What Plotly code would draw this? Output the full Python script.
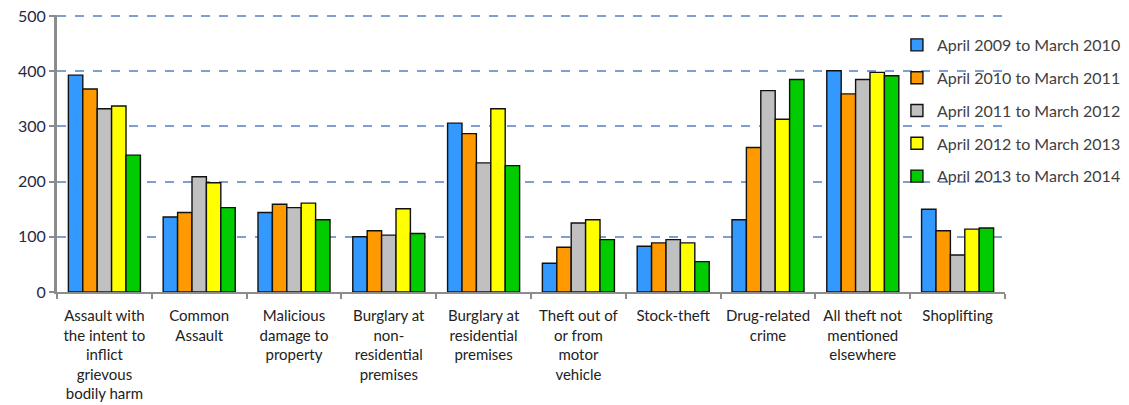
import plotly.graph_objects as go

categories = [
    "Assault with<br>the intent to<br>inflict<br>grievous<br>bodily harm",
    "Common<br>Assault",
    "Malicious<br>damage to<br>property",
    "Burglary at<br>non-<br>residential<br>premises",
    "Burglary at<br>residential<br>premises",
    "Theft out of<br>or from<br>motor<br>vehicle",
    "Stock-theft",
    "Drug-related<br>crime",
    "All theft not<br>mentioned<br>elsewhere",
    "Shoplifting",
]

periods = [
    "April 2009 to March 2010",
    "April 2010 to March 2011",
    "April 2011 to March 2012",
    "April 2012 to March 2013",
    "April 2013 to March 2014",
]

y2009_10 = [393, 136, 144, 100, 306, 52, 83, 131, 401, 150]
y2010_11 = [368, 144, 159, 111, 287, 81, 89, 262, 359, 111]
y2011_12 = [332, 209, 153, 103, 234, 125, 95, 365, 385, 67]
y2012_13 = [337, 198, 161, 151, 332, 131, 89, 313, 398, 114]
y2013_14 = [248, 153, 131, 106, 229, 95, 55, 385, 392, 116]

series = [y2009_10, y2010_11, y2011_12, y2012_13, y2013_14]
colors = ["#3399FF", "#FF9900", "#C0C0C0", "#FFFF00", "#00CC00"]

font_family = "Lato, 'Open Sans', sans-serif"
text_color = "#404040"

fig = go.Figure()
for name, vals, col in zip(periods, series, colors):
    fig.add_trace(go.Bar(
        x=categories, y=vals, name=name, legendgroup=name,
        marker=dict(color=col, line=dict(color="#111111", width=1.4)),
    ))

fig.update_layout(
    width=1129, height=405,
    margin=dict(l=57, r=124, t=15, b=113, autoexpand=False),
    paper_bgcolor="white", plot_bgcolor="white",
    barmode="group", bargap=0.24, bargroupgap=0,
    font=dict(family=font_family, size=15, color=text_color),
    legend=dict(
        x=0.886, xanchor="left",
        y=0.953, yanchor="top",
        bgcolor="rgba(0,0,0,0)", traceorder="grouped", tracegroupgap=9,
        font=dict(size=16, color=text_color),
        itemwidth=30,
    ),
    showlegend=True,
)

fig.update_xaxes(
    type="category", tickson="boundaries", automargin=False,
    showline=True, linecolor="#8C8C8C", linewidth=2,
    ticks="outside", ticklen=5, tickcolor="#8C8C8C", tickwidth=2,
    tickfont=dict(size=15, color="#222222"),
    ticklabelstandoff=9,
    showgrid=False, tickangle=0,
)
fig.update_yaxes(
    range=[0, 502], dtick=100, automargin=False,
    showline=True, linecolor="#8C8C8C", linewidth=3,
    ticks="outside", ticklen=5, tickcolor="#8C8C8C", tickwidth=2,
    tickfont=dict(size=16, color="#1F2A44"),
    showgrid=True, gridcolor="#7F9FD4", gridwidth=1.5, griddash="dash",
    zeroline=False,
)

fig.write_html("out.html")
